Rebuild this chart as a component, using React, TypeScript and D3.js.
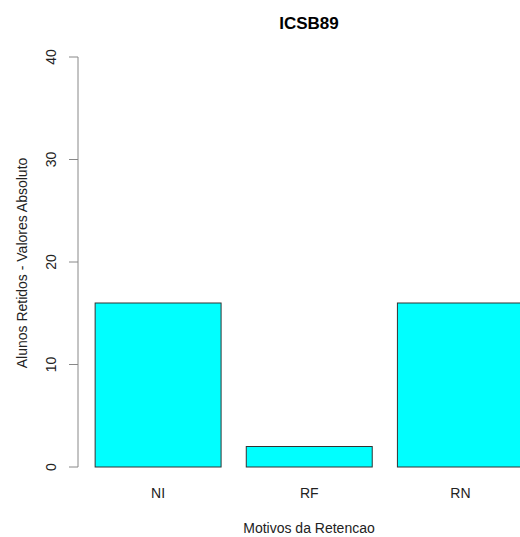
import React from "react";
import * as d3 from "d3";

const categories = ["NI", "RF", "RN"];
const values = [16, 2, 16];
const yTicks = [0, 10, 20, 30, 40];
const title = "ICSB89";
const xLabel = "Motivos da Retencao";
const yLabel = "Alunos Retidos - Valores Absoluto";

const W = 520;
const H = 537;

export default function App() {
  const x = d3
    .scaleBand<string>()
    .domain(categories)
    .range([78, 540.5])
    .paddingInner(0.2 / 1.2)
    .paddingOuter(0.136 / 1.2)
    .align(0.5);
  const y = d3.scaleLinear().domain([0, 40]).range([467, 57]);
  const font = "'Liberation Sans', Arial, Helvetica, sans-serif";
  const axisX = 78;

  return (
    <svg
      width={W}
      height={H}
      style={{ position: "absolute", left: 0, top: 0, background: "#fff" }}
      fontFamily={font}
    >
      <rect x={0} y={0} width={W} height={H} fill="#fff" />
      <text x={309} y={29} textAnchor="middle" fontSize={17} fontWeight="bold" fill="#000">
        {title}
      </text>
      {categories.map((c, i) => (
        <rect
          key={c}
          x={x(c)!}
          y={y(values[i])}
          width={x.bandwidth()}
          height={y(0) - y(values[i])}
          fill="#00ffff"
          stroke="#333"
          strokeWidth={1}
        />
      ))}
      <line x1={axisX} x2={axisX} y1={y(0)} y2={y(40)} stroke="#888" strokeWidth={1} />
      {yTicks.map((t) => (
        <g key={t}>
          <line x1={axisX - 9} x2={axisX} y1={y(t)} y2={y(t)} stroke="#888" strokeWidth={1} />
          <text
            transform={`translate(${56},${y(t)}) rotate(-90)`}
            textAnchor="middle"
            fontSize={14}
            fill="#222"
          >
            {t}
          </text>
        </g>
      ))}
      {categories.map((c) => (
        <text
          key={c}
          x={x(c)! + x.bandwidth() / 2}
          y={498}
          textAnchor="middle"
          fontSize={14}
          fill="#222"
        >
          {c}
        </text>
      ))}
      <text x={309} y={533} textAnchor="middle" fontSize={14} fill="#222">
        {xLabel}
      </text>
      <text
        transform={`translate(${27},${263}) rotate(-90)`}
        textAnchor="middle"
        fontSize={14}
        fill="#222"
      >
        {yLabel}
      </text>
    </svg>
  );
}
